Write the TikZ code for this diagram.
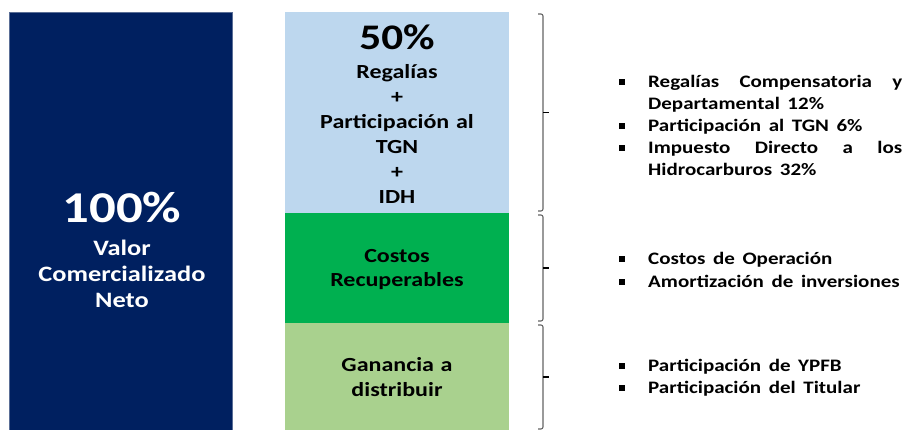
\documentclass[tikz,border=0pt]{standalone}
\usepackage{fontspec}
\setmainfont{Carlito}[FakeStretch=1.2]
\newfontfamily\itemfont{Carlito}[FakeStretch=1.2, WordSpace=1.6]
\usepackage{tikz}
\usetikzlibrary{positioning}

\definecolor{valorblue}{RGB}{0,32,96}
\definecolor{valoredge}{RGB}{90,110,150}
\definecolor{regaliablue}{RGB}{189,215,238}
\definecolor{costogreen}{RGB}{0,176,80}
\definecolor{gananciagreen}{RGB}{169,209,142}
\definecolor{bracketgray}{RGB}{100,100,100}

\tikzset{
  block/.style={anchor=north west, inner sep=0pt, outer sep=0pt},
  blocktext/.style={text width=224pt, align=center, inner sep=0pt, anchor=base, font=\bfseries\fontsize{20}{25}\selectfont},
  itemtext/.style={anchor=base west, text width=254pt, align=justify, inner sep=0pt, font=\itemfont\bfseries\fontsize{17.5}{21.5}\selectfont},
  bulletsq/.style={fill=black, minimum size=5.5pt, inner sep=0pt},
  bracket/.style={draw=bracketgray, line width=1.1pt, rounded corners=2pt},
  brackettick/.style={draw=black, line width=1.6pt},
}

\begin{document}
\begin{tikzpicture}[x=1pt,y=-1pt]
                    \useasboundingbox (0,0) rectangle (906,430);
                    % bloques
                    \node[block, fill=valorblue, draw=valoredge, line width=0.5pt, minimum width=223pt, minimum height=419pt] (valor) at (9,12) {};
                    \node[block, fill=regaliablue, minimum width=224pt, minimum height=201pt] (regalias) at (285,12) {};
                    \node[block, fill=costogreen, minimum width=224pt, minimum height=110pt] (costos) at (regalias.south west) {};
                    \node[block, fill=gananciagreen, minimum width=224pt, minimum height=108pt] (ganancia) at (costos.south west) {};
                    % textos de los bloques
                    \node[blocktext, text=white, font=\bfseries\fontsize{44}{44}\selectfont] (valorpct) at (122,223) {100\%};
                    \node[blocktext, text=white, font=\bfseries\fontsize{22}{26}\selectfont] (valortxt) at (122,256) {Valor\\Comercializado\\Neto};
                    \node[blocktext, font=\bfseries\fontsize{36}{36}\selectfont] (regpct) at (397,50) {50\%};
                    \node[blocktext] (regtxt) at (397,79) {Regalías\\+\\Participación al\\TGN\\+\\IDH};
                    \node[blocktext, font=\bfseries\fontsize{20}{23.5}\selectfont] (costostxt) at (397,263) {Costos\\Recuperables};
                    \node[blocktext] (gananciatxt) at (397,372) {Ganancia a\\distribuir};
                    % llaves
                    \foreach \blk in {regalias,costos,ganancia}{
                        \draw[bracket] ([xshift=29pt,yshift=-2pt]\blk.north east) -- ([xshift=34pt,yshift=-2pt]\blk.north east)
                            -- ([xshift=34pt,yshift=2pt]\blk.south east) -- ([xshift=29pt,yshift=2pt]\blk.south east);
                        \draw[brackettick] ([xshift=34pt]\blk.east) -- ++(6,0);
                    }
                    % detalle
                    \node[itemtext] (item1) at (648,88) {Regalías Compensatoria y\linebreak Departamental 12\%};
                    \node[itemtext] (item2) at (648,132) {Participación al TGN 6\%};
                    \node[itemtext] (item3) at (648,154) {Impuesto Directo a los\linebreak Hidrocarburos 32\%};
                    \node[itemtext] (item4) at (648,265) {Costos de Operación};
                    \node[itemtext] (item5) at (648,288) {Amortización de inversiones};
                    \node[itemtext] (item6) at (648,372) {Participación de YPFB};
                    \node[itemtext] (item7) at (648,394) {Participación del Titular};
                    \foreach \i in {1,...,7}{
                        \node[bulletsq, left=23pt of item\i.base west, yshift=6pt] (bul\i) {};
                    }
                \end{tikzpicture}
\end{document}
